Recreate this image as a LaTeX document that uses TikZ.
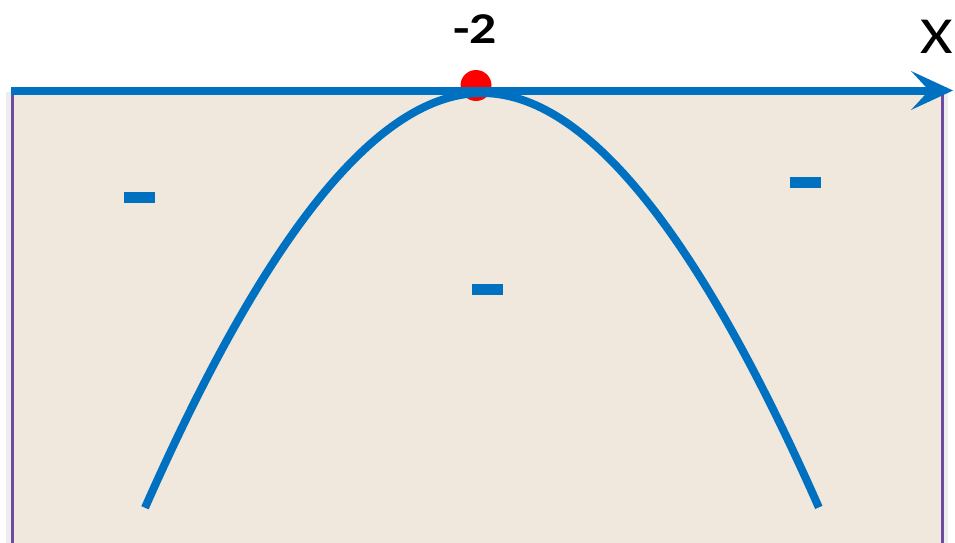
\documentclass[tikz,border=0pt]{standalone}
\usepackage{fontspec}
\setmainfont{Carlito}
\usetikzlibrary{arrows.meta}
\definecolor{axisblue}{RGB}{0,112,192}
\definecolor{paper}{RGB}{240,232,221}
\definecolor{edge}{RGB}{110,75,160}
\tikzset{
  panel/.style={rectangle, draw=edge, line width=2.5pt, fill=paper, inner sep=0pt, anchor=north west},
  curveline/.style={draw=axisblue, line width=8pt, line cap=butt, line join=round},
  axisline/.style={draw=axisblue, line width=8pt, -{Stealth[length=42pt, width=39pt, inset=18pt, line width=0pt]}},
  minusbar/.style={rectangle, fill=axisblue, inner sep=0pt, minimum width=31pt, minimum height=11pt},
  dot/.style={circle, fill=red, inner sep=0pt, minimum size=31pt}
}
\begin{document}
\begin{tikzpicture}[x=1pt, y=-1pt]
\useasboundingbox (0,0) rectangle (955,543);
\fill[white] (0,0) rectangle (955,543);
% soft shadows beside the panel
\fill[black!7] (6,92) rectangle (11,543);
\fill[black!7] (942,92) rectangle (948,543);
\node (panelbox) [panel, minimum width=930pt, minimum height=465pt] at (11,89) {};
\node (vertex) [dot] at (476,85.5) {};
\draw[curveline] plot[domain=-3.37:3.37, samples=161, variable=\h] ({482+100*\h}, {93+100*\h*\h/(2.30+0.13*abs(\h))});
\coordinate (xstart) at (11,90.5);
\coordinate (xend) at (953,90.5);
\draw[axisline] (xstart) -- (xend);
\node (vlabel) at (475,29) {\fontsize{44}{50}\selectfont\scalebox{1.22}[1]{\bfseries -2}};
\node (xlabel) at (937,37) {\fontsize{52}{60}\selectfont\scalebox{1.2}[1]{X}};
\node (m1) [minusbar] at (139.5,197.5) {};
\node (m2) [minusbar] at (805.5,182.5) {};
\node (m3) [minusbar] at (487.5,289) {};
\end{tikzpicture}
\end{document}
